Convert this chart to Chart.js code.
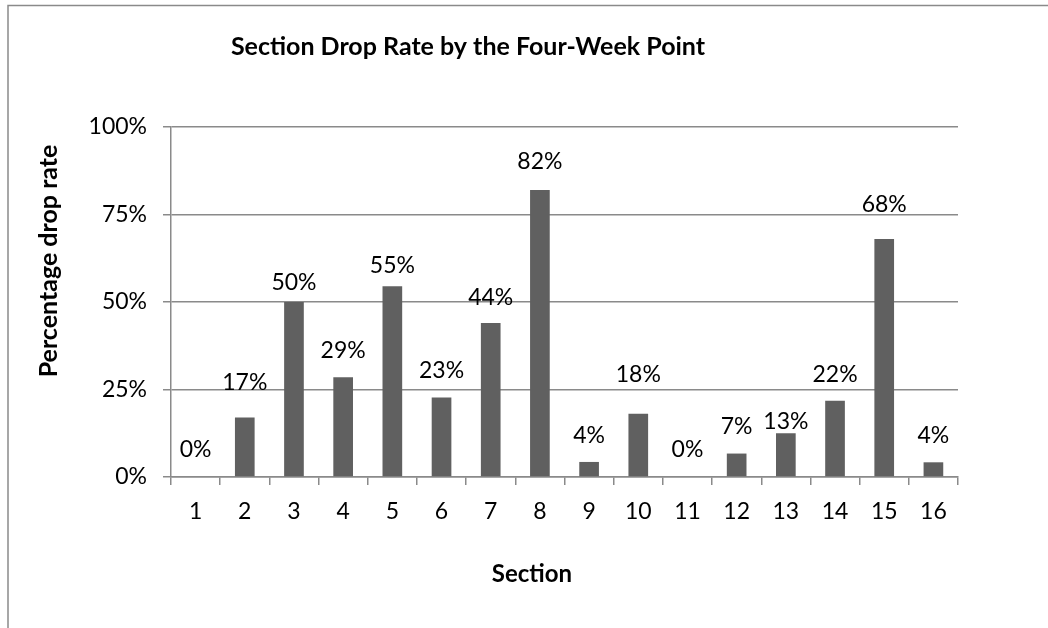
<!DOCTYPE html>
<html>
<head>
<meta charset="utf-8">
<title>Section Drop Rate by the Four-Week Point</title>
<script src="https://cdn.jsdelivr.net/npm/chart.js@4"></script>
<style>
  html, body { margin: 0; padding: 0; background: #fff; }
  #wrap { width: 1048px; height: 628px; position: relative; }
</style>
</head>
<body>
<div id="wrap"><canvas id="chart" width="1048" height="628"></canvas></div>
<script>
// data
const sections = ['1', '2', '3', '4', '5', '6', '7', '8', '9', '10', '11', '12', '13', '14', '15', '16'];
const dropRate = [0, 17, 50, 28.5, 54.5, 22.7, 44, 82, 4.3, 18.1, 0, 6.7, 12.5, 21.8, 68, 4.2];
const yTicks = [0, 25, 50, 75, 100];

// how far above each bar top its label sits (px), as placed in the original
const labelLift = [27, 35, 19, 27, 21, 27, 25, 28, 26, 39, 27, 27, 12, 26, 34, 27];

const FONT = 'Lato, "Liberation Sans", sans-serif';
const GRID = '#8a8a8a';

const decor = {
  id: 'decor',
  beforeDraw(chart) {
    const c = chart.ctx;
    c.save();
    c.strokeStyle = GRID;
    c.lineWidth = 1.5;
    c.beginPath();
    c.moveTo(8, 628);
    c.lineTo(8, 5.5);
    c.lineTo(1048, 5.5);
    c.stroke();
    c.restore();
  },
  afterDatasetsDraw(chart) {
    const c = chart.ctx;
    const meta = chart.getDatasetMeta(0);
    c.save();
    c.fillStyle = '#000';
    c.font = '23px ' + FONT;
    c.textAlign = 'center';
    c.textBaseline = 'middle';
    meta.data.forEach((bar, i) => {
      c.fillText(Math.round(dropRate[i]) + '%', bar.x, bar.y - labelLift[i]);
    });

    c.textBaseline = 'alphabetic';
    c.font = 'bold 25px ' + FONT;
    c.fillText('Section Drop Rate by the Four-Week Point', 468, 55);
    c.font = 'bold 24px ' + FONT;
    c.fillText('Section', 532, 582);

    c.font = 'bold 25px ' + FONT;
    c.translate(57, 261);
    c.rotate(-Math.PI / 2);
    c.fillText('Percentage drop rate', 0, 0);
    c.restore();
  }
};

new Chart(document.getElementById('chart'), {
  type: 'bar',
  data: {
    labels: sections,
    datasets: [{
      data: dropRate,
      backgroundColor: '#606060',
      borderWidth: 0,
      barPercentage: 0.4,
      categoryPercentage: 1
    }]
  },
  options: {
    responsive: false,
    animation: false,
    layout: { padding: { left: 0, top: 127, right: 90, bottom: 91 } },
    plugins: {
      legend: { display: false },
      tooltip: { enabled: false },
      title: { display: false }
    },
    scales: {
      x: {
        afterFit(scale) { scale.height = 60; },
        grid: {
          offset: true,
          drawOnChartArea: false,
          drawTicks: true,
          tickLength: 8,
          color: GRID,
          lineWidth: 1.5
        },
        border: { color: GRID, width: 1.5 },
        ticks: {
          color: '#000',
          font: { family: FONT, size: 23 },
          padding: 13,
          maxRotation: 0
        }
      },
      y: {
        min: 0,
        max: 100,
        afterFit(scale) { scale.width = 171; },
        afterBuildTicks(scale) { scale.ticks = yTicks.map(v => ({ value: v })); },
        grid: {
          color: GRID,
          lineWidth: 1.5,
          drawTicks: true,
          tickLength: 8
        },
        border: { color: GRID, width: 1.5 },
        ticks: {
          color: '#000',
          font: { family: FONT, size: 23 },
          padding: 16,
          callback: v => v + '%'
        }
      }
    }
  },
  plugins: [decor]
});
</script>
</body>
</html>
